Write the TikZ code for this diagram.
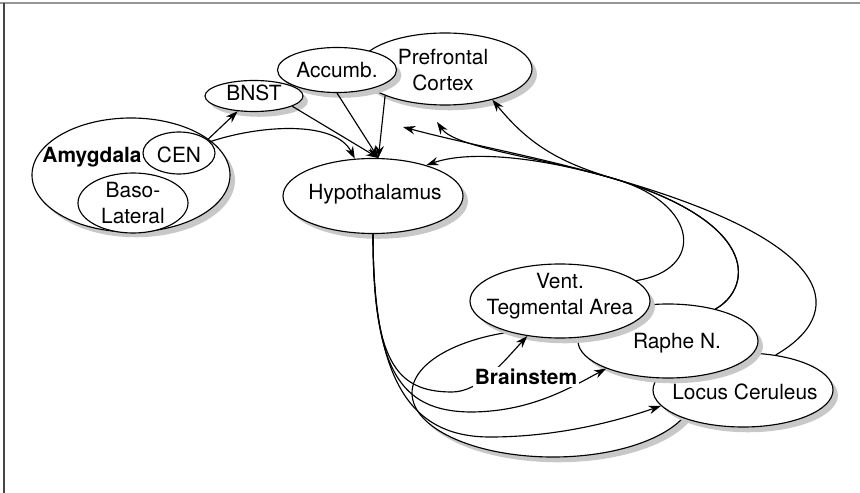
\documentclass[tikz,border=0pt]{standalone}
\usepackage{fontspec}
\setmainfont{TeX Gyre Heros}
\usetikzlibrary{shapes.geometric,arrows.meta,shadows}
\definecolor{shadowGray}{RGB}{200,200,200}
\definecolor{frameGray}{RGB}{150,150,150}
\definecolor{frameDark}{RGB}{70,70,70}

\begin{document}
\begin{tikzpicture}[x=0.2mm, y=-0.2mm, font=\fontsize{11.9}{14.5}\selectfont,
  region/.style={ellipse, draw, fill=white, line width=0.65pt, inner sep=0pt,
    drop shadow={shadow xshift=2.8pt, shadow yshift=-3pt, fill=shadowGray, opacity=1}},
  subregion/.style={ellipse, draw, fill=white, line width=0.65pt, inner sep=0pt},
  txt/.style={align=center, inner sep=0pt},
  link/.style={line width=0.65pt, -{Stealth[length=7pt, width=4.8pt]}}]
\useasboundingbox (0,0) rectangle (860,493);
% frame
\draw[frameGray, line width=0.6pt] (0,3) -- (860,3);
\draw[frameDark, line width=0.8pt] (4,3) -- (4,493);
% forebrain
\node[region, minimum width=34.8mm, minimum height=14.4mm] (pfc) at (445,69) {};
\node[region, minimum width=23.8mm, minimum height=9mm] (acc) at (337,70) {};
\node[region, minimum width=19.6mm, minimum height=6.2mm] (bnst) at (254,96) {};
\node[region, minimum width=39.6mm, minimum height=22.8mm] (amyg) at (131,175) {};
\node[subregion, minimum width=14.4mm, minimum height=8.4mm] (cen) at (179,153) {};
\node[subregion, minimum width=22mm, minimum height=12mm] (baso) at (133,203) {};
\node[region, minimum width=36mm, minimum height=15mm] (hyp) at (373,196) {};
\node[txt] (pfctxt) at (443,70) {Prefrontal\\Cortex};
\node[txt] (acctxt) at (acc) {Accumb.};
\node[txt] (bnsttxt) at (254,93) {BNST};
\node[txt] (amygtxt) at (92,157) {\textbf{Amygdala}};
\node[txt] (centxt) at (179,155) {CEN};
\node[txt] (basotxt) at (133,203) {Baso-\\Lateral};
\node[txt] (hyptxt) at (375,194) {Hypothalamus};
% brainstem
\node[region, minimum width=56.4mm, minimum height=25.6mm] (bstem) at (553,393) {};
\node[region, minimum width=36mm, minimum height=14.8mm] (lc) at (743,390) {};
\node[region, minimum width=36mm, minimum height=14.8mm] (raphe) at (668,341) {};
\node[region, minimum width=36mm, minimum height=14.8mm] (vta) at (560,301) {};
\node[txt] (vtatxt) at (560,296) {Vent.\\Tegmental Area};
\node[txt] (raphetxt) at (677,343) {Raphe N.};
\node[txt] (lctxt) at (745,392) {Locus Ceruleus};
\coordinate (ascA) at (403,127);
\coordinate (ascB) at (437,122);
% amygdala and forebrain into hypothalamus
\draw[link] (cen.25) -- (bnst.-137);
\draw[link] (cen.20) .. controls (260,125) and (335,120) .. (hyp.116);
\draw[link] (bnst.-15) -- (hyp.82);
\draw[link] (acc.south) -- (hyp.82);
\draw[link] (pfc.-156) -- (hyp.82);
% hypothalamus down to brainstem
\draw[link] (hyp.south) .. controls (373,360) and (395,392) .. (452,392)
  .. controls (480,392) and (505,360) .. (vta.-133);
\draw[link] (hyp.south) .. controls (373,370) and (400,411) .. (470,412)
  .. controls (530,412) and (570,388) .. (raphe.-156);
\draw[link] (hyp.south) .. controls (373,380) and (410,437) .. (490,437)
  .. controls (560,437) and (620,420) .. (lc.-169);
% brainstem up to forebrain
\draw[link] (vta.15) .. controls (705,270) and (700,204) .. (615,179)
  .. controls (562,163) and (531,147) .. (pfc.-33);
\draw[link] (raphe.34) .. controls (750,290) and (765,225) .. (615,179)
  .. controls (540,157) and (470,150) .. (hyp.30);
\draw[link] (raphe.34) .. controls (750,290) and (765,225) .. (615,179)
  .. controls (540,157) and (455,148) .. (ascB);
\draw[link] (lc.47) .. controls (845,315) and (845,245) .. (615,179)
  .. controls (540,157) and (470,145) .. (ascA);
\node[fill=white, inner sep=1pt] (bstemtxt) at (526,377) {\textbf{Brainstem}};
\end{tikzpicture}
\end{document}
